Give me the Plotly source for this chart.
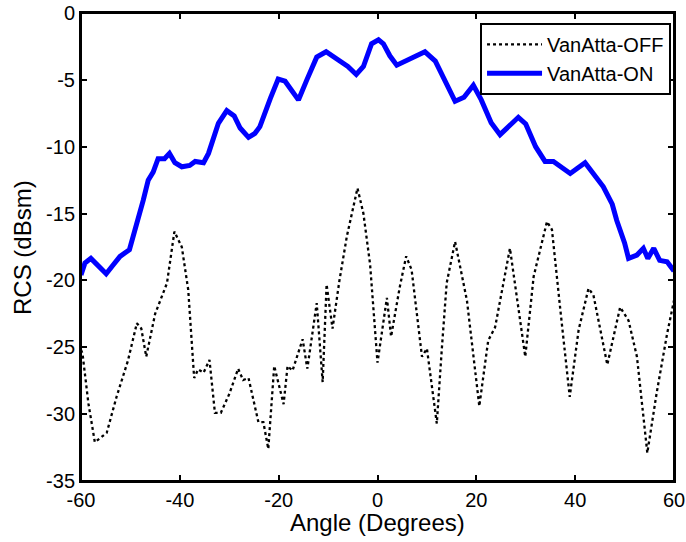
import plotly.graph_objects as go

# VanAtta-ON (blue solid)
on_angle = [-60, -59.2, -58, -54.9, -53.5, -52.1, -50.2, -49.1, -47.4, -46.4, -45.4, -44.4, -43.1, -42.1,
            -41, -39.6, -38, -36.9, -35.2, -34.2, -32.2, -30.5, -29, -27.8, -26.1, -24.8, -23.8, -21.7,
            -20.1, -18.7, -16.0, -14.3, -12.3, -10.4, -8.25, -6, -4.3, -2.85, -1.2, 0.2, 1.2, 2.5, 3.9,
            6.6, 9.6, 11.7, 13.5, 15.7, 17.5, 19.4, 21, 23, 24.8, 26.5, 28.5, 30, 32, 33.9, 35.6, 39.0,
            42.0, 45.7, 47.5, 48.4, 50, 50.8, 52.5, 53.8, 54.7, 55.9, 57.1, 58.6, 60]
on_rcs = [-19.6, -18.7, -18.35, -19.5, -18.85, -18.2, -17.7, -16.35, -14.0, -12.5, -11.9, -10.9, -10.9, -10.5,
          -11.2, -11.5, -11.4, -11.1, -11.2, -10.5, -8.25, -7.3, -7.7, -8.6, -9.3, -9.0, -8.5, -6.4,
          -4.94, -5.1, -6.5, -5.0, -3.3, -2.9, -3.4, -4.0, -4.6, -4.0, -2.3, -2.0, -2.3, -3.2, -3.9,
          -3.4, -2.9, -3.6, -5.0, -6.6, -6.3, -5.4, -6.5, -8.2, -9.1, -8.5, -7.8, -8.3, -10.0, -11.1, -11.1, -12.0,
          -11.2, -13.0, -14.3, -15.5, -17.2, -18.35, -18.1, -17.6, -18.35, -17.6, -18.5, -18.6, -19.3]

# VanAtta-OFF (black dotted)
off_angle = [-60, -59.7, -58.5, -57.2, -54.8, -52.8, -50.5, -48.7, -47.8, -46.8, -45, -42.6, -41.1, -39.6,
             -38.3, -37.1, -36.3, -35.2, -34.0, -32.9, -31.7, -30, -28.2, -27.2, -26.1, -24.1, -23.1, -22.1,
             -20.9, -19.0, -18.2, -17.2, -15.15, -14.2, -12.3, -11.1, -10.3, -9.1, -7.7, -6.2, -4.05, -2.85,
             -1.5, 0.0, 1.9, 2.75, 4.5, 5.8, 6.9, 9.0, 10.0, 12.0, 13.0, 14.0, 15.7, 18.1, 20.6, 22.4, 23.8,
             26.8, 29.9, 31.6, 34.3, 35.3, 37.0, 38.9, 40.7, 42.7, 43.7, 46.5, 49.1, 50.8, 52.5, 54.6, 56.5,
             58.6, 60]
off_rcs = [-25.2, -25.45, -29.2, -32.1, -31.4, -28.7, -26.0, -23.2, -23.6, -25.7, -22.5, -20.2, -16.35, -17.5,
           -20.7, -27.3, -26.65, -26.9, -25.95, -29.9, -29.9, -28.5, -26.6, -27.45, -27.3, -30.6, -30.6, -32.6,
           -26.4, -29.25, -26.4, -26.75, -24.4, -26.6, -21.7, -27.6, -20.3, -23.6, -20.0, -16.7, -13.1, -15.0,
           -18.8, -26.15, -21.3, -24.2, -20.5, -18.2, -19.2, -25.7, -25.1, -30.7, -25.2, -20.2, -17.1, -21.5,
           -29.4, -24.5, -23.5, -17.6, -25.7, -19.7, -15.6, -16.2, -22.2, -28.7, -23.7, -20.6, -21.1, -26.3,
           -22.0, -23.0, -25.7, -32.9, -28.4, -24.0, -21.5]

x_ticks = [-60, -40, -20, 0, 20, 40, 60]
y_ticks = [0, -5, -10, -15, -20, -25, -30, -35]

FONT = "Liberation Sans, Arial, sans-serif"

fig = go.Figure()
fig.add_trace(go.Scatter(x=off_angle, y=off_rcs, mode="lines", name="VanAtta-OFF",
                         line=dict(color="black", width=2.3, dash="dot")))
fig.add_trace(go.Scatter(x=on_angle, y=on_rcs, mode="lines", name="VanAtta-ON",
                         line=dict(color="#0000ff", width=5)))

axis_common = dict(showgrid=False, zeroline=False, showline=True, linecolor="black", linewidth=2,
                   mirror="ticks", ticks="inside", ticklen=6, tickwidth=1.5, tickcolor="black",
                   automargin=False,
                   tickfont=dict(family=FONT, size=20, color="black"))

fig.update_layout(
    width=686, height=542,
    margin=dict(l=81, r=12, t=13, b=61),
    paper_bgcolor="white", plot_bgcolor="white",
    xaxis=dict(range=[-60, 60], tickvals=x_ticks, ticktext=[str(v) for v in x_ticks], **axis_common),
    yaxis=dict(range=[-35, 0], tickvals=y_ticks, ticktext=[str(v) for v in y_ticks], **axis_common),
    legend=dict(x=0.995, y=0.979, xanchor="right", yanchor="top",
                bgcolor="white", bordercolor="black", borderwidth=2,
                font=dict(family=FONT, size=20, color="black"),
                tracegroupgap=0, itemwidth=55),
    showlegend=True,
    shapes=[dict(type="rect", xref="paper", yref="paper", x0=0, x1=1, y0=0, y1=1,
                 line=dict(color="black", width=2), fillcolor="rgba(0,0,0,0)", layer="above")],
    annotations=[
        dict(text="Angle (Degrees)", xref="paper", yref="paper", x=0.5, y=-0.0897,
             xanchor="center", yanchor="middle", showarrow=False,
             font=dict(family=FONT, size=24, color="black")),
        dict(text="RCS (dBsm)", xref="paper", yref="paper", x=-0.0995, y=0.5,
             xanchor="center", yanchor="middle", showarrow=False, textangle=-90,
             font=dict(family=FONT, size=24, color="black")),
    ],
)

# remove the browser's default 8px body margin so the figure sits at the page origin
fig.write_html("out.html", config={"displayModeBar": False},
               post_script="document.body.style.margin='0';document.body.style.overflow='hidden';")
